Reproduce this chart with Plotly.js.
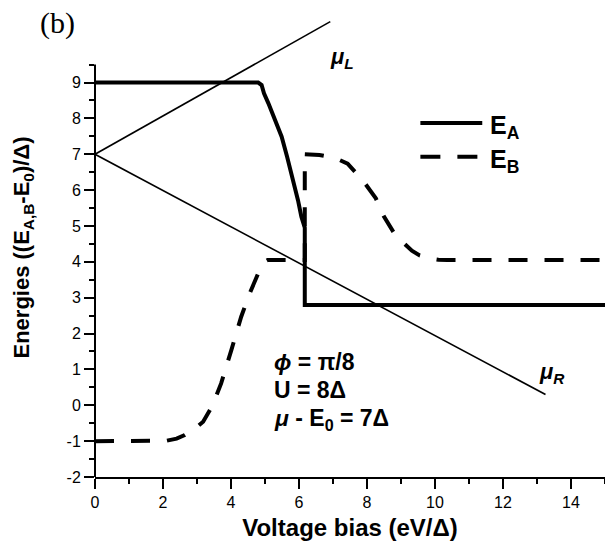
<!DOCTYPE html>
<html>
<head>
<meta charset="utf-8">
<script src="https://cdn.plot.ly/plotly-3.0.1.min.js"></script>
<style>html,body{margin:0;padding:0;background:#fff;}#chart{width:605px;height:544px;}</style>
</head>
<body>
<div id="chart"></div>
<script>
// E_A (solid)
const vA = [0, 4.80, 4.90, 4.97, 5.10, 5.29, 5.49, 5.65, 5.81, 5.97, 6.07, 6.14, 6.17, 6.17, 15];
const eA = [9.0, 9.0, 8.93, 8.70, 8.42, 8.0, 7.49, 6.93, 6.37, 5.72, 5.26, 5.05, 4.95, 2.8, 2.8];
// E_B (dashed)
const vB = [0, 2.1, 2.4, 2.64, 2.9, 3.18, 3.45, 3.71, 4.01, 4.30, 4.55, 4.84, 4.98, 5.08, 5.5, 6.17, 6.17, 6.3, 6.6, 6.89, 7.15, 7.43, 7.87, 8.26, 8.5, 8.83, 9.1, 9.32, 9.55, 9.82, 10.1, 10.36, 15];
const eB = [-1, -0.99, -0.93, -0.83, -0.68, -0.46, -0.02, 0.61, 1.54, 2.47, 3.12, 3.77, 4.0, 4.05, 4.05, 4.05, 7.0, 7.0, 6.98, 6.93, 6.86, 6.74, 6.28, 5.77, 5.26, 4.75, 4.5, 4.31, 4.18, 4.10, 4.06, 4.05, 4.05];
// chemical potentials
const vMuL = [0, 6.92];
const muL = [7, 10.7];
const vMuR = [0, 13.25];
const muR = [7, 0.3];
// ticks
const xMajor = [0, 2, 4, 6, 8, 10, 12, 14];
const xMinor = [1, 3, 5, 7, 9, 11, 13, 15];
const yMajor = [-2, -1, 0, 1, 2, 3, 4, 5, 6, 7, 8, 9];
const yMinor = [-1.5, -0.5, 0.5, 1.5, 2.5, 3.5, 4.5, 5.5, 6.5, 7.5, 8.5, 9.5];

const F = 'Liberation Sans, Arial, sans-serif';
const traces = [
  {x: vMuL, y: muL, mode: 'lines', line: {color: '#000', width: 1.6}, name: 'μL', showlegend: false},
  {x: vMuR, y: muR, mode: 'lines', line: {color: '#000', width: 1.6}, name: 'μR', showlegend: false},
  {x: vA, y: eA, mode: 'lines', line: {color: '#000', width: 4}, name: 'E_A', showlegend: false},
  {x: vB, y: eB, mode: 'lines', line: {color: '#000', width: 4, dash: '19px,17px'}, name: 'E_B', showlegend: false}
];

const layout = {
  width: 605, height: 544,
  margin: {l: 95, r: 0, t: 18, b: 67},
  paper_bgcolor: '#fff', plot_bgcolor: '#fff',
  showlegend: false,
  font: {family: F, color: '#000'},
  xaxis: {
    range: [0, 15], showgrid: false, zeroline: false,
    showline: true, linecolor: '#000', linewidth: 2,
    tickmode: 'array', tickvals: xMajor, ticktext: xMajor.map(String),
    ticks: 'outside', ticklen: 10, tickwidth: 2, tickcolor: '#000',
    minor: {tickmode: 'array', tickvals: xMinor, ticks: 'outside', ticklen: 5, tickwidth: 2, tickcolor: '#000', showgrid: false},
    tickfont: {family: F, size: 16},
    title: {text: 'Voltage bias (eV/Δ)', font: {family: F, size: 24, weight: 'bold'}, standoff: 9}
  },
  yaxis: {
    range: [-2, 10.8], showgrid: false, zeroline: false,
    showline: false,
    tickmode: 'array', tickvals: yMajor, ticktext: yMajor.map(String),
    ticks: 'outside', ticklen: 10, tickwidth: 2, tickcolor: '#000',
    minor: {tickmode: 'array', tickvals: yMinor, ticks: 'outside', ticklen: 5, tickwidth: 2, tickcolor: '#000', showgrid: false},
    tickfont: {family: F, size: 16},
    title: {text: 'Energies ((E<sub>A,B</sub>-E<sub>0</sub>)/Δ)', font: {family: F, size: 22, weight: 'bold'}, standoff: 30}
  },
  shapes: [
    {type: 'line', xref: 'paper', yref: 'y', x0: 0, x1: 0, y0: -2, y1: 9.5, line: {color: '#000', width: 2}},
    {type: 'line', xref: 'x', yref: 'y', x0: 9.57, x1: 11.39, y0: 7.87, y1: 7.87, line: {color: '#000', width: 4}},
    {type: 'line', xref: 'x', yref: 'y', x0: 9.57, x1: 11.3, y0: 6.93, y1: 6.93, line: {color: '#000', width: 4, dash: '20px,17px'}}
  ],
  annotations: [
    {xref: 'paper', yref: 'paper', x: -0.073, y: 0.99, text: '(b)', showarrow: false, xanchor: 'center', yanchor: 'middle', font: {family: 'Liberation Serif, Times New Roman, serif', size: 30}},
    {xref: 'x', yref: 'y', x: 11.56, y: 7.75, text: '<b>E<sub>A</sub></b>', showarrow: false, xanchor: 'left', yanchor: 'middle', font: {family: F, size: 25}},
    {xref: 'x', yref: 'y', x: 11.56, y: 6.81, text: '<b>E<sub>B</sub></b>', showarrow: false, xanchor: 'left', yanchor: 'middle', font: {family: F, size: 25}},
    {xref: 'x', yref: 'y', x: 6.85, y: 9.68, text: '<b><i>μ<sub>L</sub></i></b>', showarrow: false, xanchor: 'left', yanchor: 'middle', font: {family: F, size: 22}},
    {xref: 'x', yref: 'y', x: 13.0, y: 0.9, text: '<b><i>μ<sub>R</sub></i></b>', showarrow: false, xanchor: 'left', yanchor: 'middle', font: {family: F, size: 22}},
    {xref: 'x', yref: 'y', x: 5.2, y: 1.2, text: '<b><i>ϕ</i> = π/8</b>', showarrow: false, xanchor: 'left', yanchor: 'middle', font: {family: F, size: 23}},
    {xref: 'x', yref: 'y', x: 5.2, y: 0.43, text: '<b>U = 8Δ</b>', showarrow: false, xanchor: 'left', yanchor: 'middle', font: {family: F, size: 23}},
    {xref: 'x', yref: 'y', x: 5.2, y: -0.4, text: '<b><i>μ</i> - E<sub>0</sub> = 7Δ</b>', showarrow: false, xanchor: 'left', yanchor: 'middle', font: {family: F, size: 23}}
  ]
};

Plotly.newPlot('chart', traces, layout, {staticPlot: true, displayModeBar: false});
</script>
</body>
</html>
